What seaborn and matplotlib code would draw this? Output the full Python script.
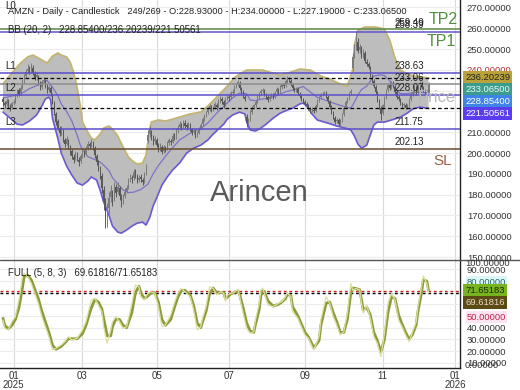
import numpy as np
import pandas as pd
import matplotlib
matplotlib.use("Agg")
import matplotlib.pyplot as plt
from matplotlib.lines import Line2D
import seaborn as sns

# ---------------- data ----------------
opens = [225.8, 224.2, 223.4, 225.0, 222.5, 221.9, 224.3, 225.1, 227.6, 230.2,
         229.0, 231.8, 234.9, 237.2, 239.5, 240.9, 239.0, 241.0, 238.1, 236.5,
         236.9, 233.4, 231.9, 234.6, 234.7, 232.0, 230.3, 231.4, 228.2, 224.3,
         219.0, 215.2, 212.0, 209.9, 210.8, 206.4, 204.6, 206.2, 202.7, 200.9,
         198.2, 197.3, 199.4, 196.8, 196.0, 198.9, 200.5, 199.8, 202.6, 204.2,
         203.7, 205.0, 202.4, 198.6, 195.3, 192.5, 188.8, 182.3, 174.9, 168.2,
         173.4, 178.9, 181.0, 178.0, 183.6, 181.2, 183.1, 178.7, 176.9, 179.4,
         181.9, 183.6, 187.3, 188.2, 187.9, 191.2, 188.8, 187.0, 188.4, 187.1,
         186.4, 190.3, 205.6, 209.1, 210.3, 207.9, 205.6, 206.4, 203.8, 202.0,
         203.1, 201.0, 202.5, 202.3, 205.0, 206.0, 205.4, 208.6, 207.8, 210.9,
         212.4, 213.5, 212.8, 214.6, 213.6, 212.9, 213.5, 211.4, 210.1, 210.2,
         208.9, 209.8, 211.9, 213.9, 216.5, 218.1, 219.6, 221.4, 222.2, 221.2,
         222.0, 223.3, 222.4, 225.1, 226.0, 224.7, 223.6, 226.2, 227.1, 226.9,
         229.0, 229.8, 232.0, 233.1, 233.8, 230.9, 229.3, 227.0, 217.2, 215.1,
         216.3, 219.7, 222.0, 223.2, 224.8, 227.1, 228.9, 230.0, 230.1, 228.1,
         226.8, 225.9, 227.2, 228.0, 227.3, 229.4, 230.5, 229.7, 231.9, 232.8,
         232.5, 234.8, 235.6, 234.6, 232.8, 231.1, 230.5, 230.7, 228.4, 227.2,
         225.8, 224.5, 223.7, 222.6, 221.3, 220.7, 220.9, 220.4, 223.1, 225.6,
         227.0, 228.2, 228.9, 228.8, 227.1, 224.7, 222.0, 219.3, 216.9, 215.2,
         215.8, 214.1, 216.0, 218.7, 222.2, 224.9, 226.5, 228.7, 241.0, 246.8,
         251.5, 253.6, 249.6, 250.4, 247.0, 248.2, 243.8, 242.9, 241.2, 237.0,
         234.5, 231.8, 229.1, 225.3, 221.8, 219.1, 223.2, 226.7, 230.1, 232.9,
         231.7, 233.6, 231.9, 229.2, 226.8, 225.7, 223.9, 222.9, 223.1, 222.2,
         223.1, 225.9, 228.2, 229.6, 231.5, 229.3, 232.7, 233.6, 231.3, 229.9,
         229.4, 228.93]
highs = [226.9, 225.1, 226.4, 225.8, 223.6, 224.8, 226.0, 228.4, 231.0, 231.4,
         232.5, 235.6, 238.1, 240.3, 242.6, 242.0, 243.1, 242.2, 239.4, 238.8,
         237.6, 234.6, 235.3, 236.4, 235.5, 233.1, 232.9, 232.2, 229.1, 225.2,
         219.9, 216.4, 213.1, 212.8, 211.6, 207.3, 208.1, 207.0, 203.9, 201.8,
         199.6, 201.2, 200.3, 198.1, 199.7, 202.3, 201.6, 203.4, 206.0, 205.4,
         206.8, 205.9, 203.3, 199.5, 196.8, 193.8, 190.2, 184.1, 178.6, 175.8,
         181.2, 184.6, 182.4, 186.3, 185.0, 186.1, 184.2, 180.3, 180.4, 183.0,
         184.8, 188.2, 190.1, 189.5, 192.3, 192.4, 190.0, 189.6, 189.9, 188.0,
         191.0, 194.6, 210.9, 213.2, 211.2, 208.8, 208.0, 207.3, 204.7, 204.8,
         204.0, 203.9, 203.6, 205.8, 207.4, 206.9, 209.5, 209.7, 211.9, 213.3,
         215.2, 214.6, 216.1, 215.7, 214.4, 215.0, 214.3, 212.2, 211.8, 211.0,
         210.6, 212.7, 214.6, 217.3, 218.9, 220.4, 222.2, 223.5, 223.1, 222.8,
         224.6, 224.2, 225.9, 227.4, 226.9, 225.6, 227.0, 228.5, 228.0, 229.9,
         230.6, 232.8, 233.9, 235.2, 234.7, 231.8, 230.2, 228.1, 218.9, 217.0,
         220.5, 222.6, 223.8, 225.4, 227.7, 229.5, 230.8, 231.4, 231.0, 229.0,
         227.7, 227.8, 229.1, 228.9, 230.0, 231.7, 231.4, 232.5, 233.9, 233.7,
         235.4, 236.9, 236.5, 235.5, 233.7, 232.0, 231.9, 231.6, 229.3, 228.1,
         226.7, 225.4, 224.6, 223.5, 222.2, 222.1, 221.8, 223.7, 226.2, 227.6,
         228.8, 229.5, 230.0, 229.7, 228.0, 225.6, 222.9, 220.2, 217.8, 217.0,
         216.7, 216.6, 219.3, 222.8, 225.5, 227.1, 229.3, 230.7, 248.2, 252.4,
         258.6, 255.1, 252.6, 251.3, 249.9, 249.1, 245.3, 243.8, 242.1, 237.9,
         235.4, 232.7, 230.0, 226.2, 222.7, 223.8, 227.3, 230.7, 233.5, 234.0,
         234.8, 234.5, 232.8, 230.1, 227.7, 226.6, 224.8, 224.3, 224.0, 223.7,
         226.5, 228.8, 230.2, 232.7, 232.4, 233.3, 234.8, 234.5, 232.2, 230.8,
         230.3, 234.0]
lows = [222.8, 221.9, 222.6, 221.7, 220.3, 221.0, 223.1, 224.2, 226.8, 227.5,
        228.1, 230.9, 233.6, 236.0, 238.2, 237.8, 238.4, 237.6, 234.9, 235.2,
        232.7, 230.5, 231.0, 233.5, 231.3, 228.8, 229.4, 227.6, 223.8, 218.4,
        213.6, 211.0, 208.2, 208.7, 205.5, 202.8, 203.7, 201.8, 199.2, 197.3,
        195.4, 196.5, 196.0, 193.9, 195.1, 197.8, 198.1, 199.0, 201.5, 201.9,
        202.8, 201.7, 197.8, 194.2, 191.6, 187.4, 180.9, 172.5, 164.0, 164.7,
        171.0, 176.3, 174.8, 176.9, 178.7, 180.1, 177.6, 173.9, 175.6, 178.2,
        180.6, 182.7, 186.0, 185.8, 187.0, 188.0, 185.4, 186.1, 186.2, 184.6,
        185.5, 189.4, 204.8, 207.9, 206.3, 203.9, 204.5, 202.9, 200.4, 201.1,
        199.5, 200.1, 200.7, 201.4, 204.1, 203.8, 204.7, 206.2, 207.0, 209.8,
        211.5, 211.0, 211.9, 212.1, 211.3, 212.0, 210.4, 208.5, 209.2, 207.3,
        207.8, 209.0, 211.1, 213.0, 215.6, 217.2, 218.7, 220.3, 219.6, 220.0,
        221.1, 220.8, 221.6, 224.2, 223.7, 221.9, 222.8, 225.3, 225.2, 226.1,
        228.1, 229.0, 231.1, 232.2, 230.3, 228.5, 226.4, 225.2, 212.6, 213.9,
        215.4, 218.8, 221.1, 222.3, 223.9, 226.2, 228.0, 229.1, 227.5, 226.2,
        224.7, 225.0, 226.3, 226.1, 226.4, 228.5, 228.5, 228.8, 231.0, 231.3,
        231.6, 233.9, 234.0, 232.2, 230.5, 229.3, 229.6, 227.8, 226.6, 225.2,
        223.9, 222.5, 222.0, 220.7, 219.5, 219.8, 219.2, 219.6, 222.2, 224.7,
        226.1, 227.3, 228.0, 226.5, 224.1, 221.4, 218.7, 216.3, 214.0, 214.3,
        212.9, 213.2, 215.1, 217.8, 221.3, 224.0, 225.6, 227.8, 239.5, 245.9,
        249.8, 248.3, 248.0, 245.8, 245.6, 243.2, 241.7, 240.4, 236.4, 233.9,
        231.2, 228.5, 224.7, 221.2, 216.0, 218.2, 222.3, 225.8, 229.2, 230.5,
        230.8, 231.3, 228.6, 226.2, 225.1, 223.3, 221.7, 222.0, 221.0, 221.3,
        222.2, 225.0, 227.3, 228.7, 228.1, 228.4, 231.8, 230.7, 229.3, 228.2,
        228.0, 227.19]
closes = [224.5, 223.0, 225.2, 222.8, 221.6, 223.9, 224.7, 227.3, 229.8, 228.6,
          231.2, 234.5, 236.8, 238.9, 240.6, 239.2, 241.3, 238.5, 236.1, 237.4,
          233.8, 231.6, 234.2, 235.0, 232.4, 229.9, 231.8, 228.7, 224.9, 219.6,
          214.8, 212.3, 209.6, 211.4, 206.9, 204.2, 206.8, 203.1, 200.4, 198.7,
          196.9, 199.8, 197.2, 195.6, 198.4, 200.9, 199.3, 202.1, 204.6, 203.2,
          205.4, 203.0, 199.1, 195.8, 193.2, 189.6, 183.4, 176.8, 168.9, 172.6,
          178.4, 181.7, 177.2, 184.1, 180.6, 183.8, 179.2, 176.5, 178.9, 181.4,
          183.2, 186.9, 188.6, 187.4, 190.8, 189.2, 186.7, 188.1, 187.5, 185.9,
          189.8, 193.4, 208.7, 210.9, 207.6, 205.2, 206.8, 204.1, 201.7, 203.5,
          200.6, 202.8, 201.9, 204.7, 206.2, 205.1, 208.3, 207.5, 210.6, 212.1,
          213.8, 212.4, 214.9, 213.2, 212.6, 213.9, 211.7, 209.8, 210.5, 208.6,
          209.4, 211.6, 213.5, 216.2, 217.8, 219.3, 221.1, 222.4, 220.9, 221.7,
          223.5, 222.1, 224.8, 226.3, 225.0, 223.2, 225.9, 227.4, 226.6, 228.8,
          229.5, 231.7, 232.8, 234.1, 231.2, 229.6, 227.3, 226.1, 214.8, 215.9,
          219.4, 221.7, 222.9, 224.5, 226.8, 228.6, 229.7, 230.3, 228.4, 227.1,
          225.6, 226.9, 228.2, 227.0, 229.1, 230.8, 229.4, 231.6, 233.0, 232.2,
          234.5, 235.8, 234.9, 233.1, 231.4, 230.2, 231.0, 228.7, 227.5, 226.1,
          224.8, 223.4, 222.9, 221.6, 220.4, 221.2, 220.1, 222.8, 225.3, 226.7,
          227.9, 228.6, 229.1, 227.4, 225.0, 222.3, 219.6, 217.2, 214.9, 216.1,
          213.8, 215.7, 218.4, 221.9, 224.6, 226.2, 228.4, 229.8, 246.3, 250.9,
          254.0, 249.2, 250.8, 246.7, 248.5, 244.1, 242.6, 241.5, 237.3, 234.8,
          232.1, 229.4, 225.6, 222.1, 218.7, 222.9, 226.4, 229.8, 232.6, 231.4,
          233.9, 232.2, 229.5, 227.1, 226.0, 224.2, 222.6, 223.4, 221.9, 222.8,
          225.6, 227.9, 229.3, 231.8, 229.0, 232.4, 233.9, 231.6, 230.2, 229.1,
          228.93, 233.065]

# Bollinger band (20, 2) read at sample bars
bb_upper_bar = [0, 4, 10, 14, 17, 21, 25, 28, 31, 33, 36, 38, 40, 42, 44, 45, 48, 50, 52, 55,
                57, 60, 62, 65, 68, 71, 74, 76, 79, 81, 83, 84, 88, 92, 96, 100, 106, 112, 116, 121,
                127, 131, 134, 138, 143, 147, 151, 157, 163, 168, 174, 180, 185, 191, 195, 198, 199, 201, 205, 211,
                216, 219, 222, 225, 229, 233, 237, 241]
bb_upper = [233.2, 237.5, 243.3, 246.2, 247.1, 245.2, 243.3, 246.6, 248.1, 247.1,
            246.2, 243.8, 238.9, 231.3, 221.6, 214.9, 210.1, 207.2, 206.3, 209.1,
            212.0, 213.0, 211.5, 208.2, 202.9, 198.1, 195.7, 194.7, 195.2, 199.0,
            211.1, 214.9, 215.9, 215.4, 216.3, 217.3, 218.8, 219.7, 222.6, 226.9,
            232.2, 236.1, 238.0, 239.9, 239.9, 239.9, 238.9, 237.5, 238.9, 240.4,
            239.9, 237.0, 235.6, 233.2, 232.2, 239.9, 251.9, 259.1, 260.6, 260.6,
            259.6, 254.3, 245.7, 239.9, 238.0, 237.0, 236.5, 236.20239]
bb_lower_bar = [0, 4, 8, 11, 15, 19, 22, 24, 26, 27, 28, 31, 33, 36, 39, 42, 45, 48, 50, 53,
                55, 57, 60, 62, 65, 67, 70, 73, 76, 79, 81, 83, 85, 87, 90, 93, 96, 100, 104, 108,
                112, 116, 119, 122, 125, 127, 130, 134, 137, 138, 140, 143, 146, 149, 153, 157, 161, 164, 168, 170,
                172, 175, 178, 184, 189, 194, 197, 199, 201, 203, 206, 208, 210, 212, 216, 220, 225, 229, 232, 236,
                241]
bb_lower = [219.7, 216.8, 213.9, 213.5, 215.4, 218.3, 222.6, 226.0, 226.9, 225.5,
            216.8, 207.2, 200.0, 193.8, 189.4, 185.6, 184.6, 186.5, 188.5, 187.0,
            182.2, 176.4, 170.2, 164.9, 162.0, 161.5, 163.0, 164.9, 166.3, 166.8,
            165.4, 168.8, 174.5, 178.4, 184.6, 188.5, 191.8, 195.2, 200.0, 202.4,
            203.8, 206.3, 209.1, 211.5, 213.9, 216.3, 218.3, 219.7, 218.8, 214.9,
            211.1, 210.6, 212.0, 213.9, 216.8, 219.2, 220.7, 221.6, 223.6, 224.0,
            222.6, 218.8, 215.9, 214.4, 213.0, 212.0, 211.1, 208.2, 204.3, 202.4,
            203.8, 208.7, 213.5, 214.9, 214.9, 215.9, 217.3, 219.2, 221.2, 222.1,
            221.50561]
bb_mid_bar = [0, 4, 10, 15, 19, 22, 25, 28, 31, 33, 36, 39, 42, 44, 48, 52, 55, 57, 60, 62,
              65, 68, 71, 74, 78, 82, 85, 88, 92, 96, 100, 104, 108, 112, 116, 121, 125, 130, 134, 138,
              140, 143, 146, 150, 155, 160, 165, 170, 174, 178, 184, 189, 194, 197, 199, 201, 203, 206, 210, 213,
              216, 220, 222, 225, 229, 233, 237, 241]
bb_mid = [226.5, 227.2, 228.4, 231.0, 232.4, 233.7, 234.9, 231.7, 227.7, 223.6,
          220.0, 215.4, 208.5, 203.3, 198.3, 196.9, 195.7, 194.2, 191.6, 188.2,
          185.1, 182.3, 181.0, 181.2, 182.5, 185.0, 190.0, 194.0, 198.5, 202.5,
          206.3, 208.5, 210.5, 211.8, 214.5, 219.2, 222.5, 226.5, 228.9, 228.5,
          225.5, 225.2, 225.9, 226.3, 227.6, 229.5, 230.5, 232.0, 229.4, 226.8,
          225.0, 223.5, 222.2, 221.6, 224.5, 228.0, 230.5, 232.2, 237.0, 237.6,
          237.3, 234.0, 231.1, 228.6, 228.6, 229.2, 229.2, 228.854]

# Full stochastic (5, 8, 3) read at sample bars
stoch_bar = [0, 1, 3, 5, 7, 9, 11, 12, 14, 16, 18, 20, 22, 24, 26, 28, 30, 33, 35, 37,
             39, 42, 45, 47, 50, 52, 54, 56, 57, 59, 61, 62, 64, 66, 68, 70, 73, 75, 77, 78,
             80, 82, 84, 86, 88, 90, 92, 95, 97, 99, 101, 103, 106, 108, 110, 112, 113, 115, 117, 119,
             121, 123, 125, 126, 127, 129, 130, 133, 134, 136, 138, 140, 142, 143, 145, 146, 147, 148, 150, 153,
             156, 158, 160, 161, 163, 164, 167, 169, 171, 173, 175, 176, 179, 180, 183, 185, 187, 189, 191, 193,
             195, 197, 198, 200, 202, 203, 204, 206, 208, 210, 212, 214, 216, 218, 220, 222, 224, 226, 228, 230,
             232, 234, 235, 237, 238, 240, 241]
stoch_k = [46.6, 39.4, 38.0, 45.1, 49.4, 63.7, 83.7, 86.6, 83.7, 78.0,
           69.4, 60.9, 49.4, 40.8, 32.3, 20.9, 22.3, 25.2, 28.0, 32.3,
           29.4, 30.9, 38.0, 45.1, 63.7, 65.2, 59.4, 53.7, 40.8, 26.6,
           38.0, 45.1, 49.4, 45.1, 39.4, 40.8, 60.9, 76.6, 75.1, 66.5,
           63.7, 69.4, 70.8, 69.4, 58.0, 40.8, 42.3, 50.9, 60.9, 69.4,
           73.7, 70.8, 66.5, 55.1, 38.0, 40.8, 48.0, 58.0, 75.1, 73.7,
           68.0, 70.8, 69.4, 62.3, 68.0, 69.4, 69.4, 72.9, 66.5, 52.3,
           39.4, 35.2, 36.6, 47.0, 60.0, 72.0, 74.0, 69.4, 59.4, 58.0,
           60.9, 62.3, 66.5, 70.0, 66.5, 53.7, 48.0, 40.8, 33.7, 30.9,
           23.7, 20.9, 32.3, 46.6, 66.5, 60.9, 49.4, 42.3, 33.7, 36.6,
           52.3, 78.0, 72.3, 73.7, 72.3, 60.9, 52.3, 59.4, 48.0, 32.3,
           26.6, 15.1, 35.2, 60.9, 69.4, 63.7, 46.6, 40.8, 33.7, 28.0,
           36.6, 45.1, 58.0, 75.1, 84.3, 78.0, 69.61816]
stoch_d = [48.0, 42.0, 39.0, 42.0, 47.0, 57.0, 74.0, 84.0, 85.0, 81.0,
           73.0, 65.0, 54.0, 45.0, 36.0, 25.0, 21.5, 24.0, 27.0, 30.5,
           30.5, 30.5, 35.0, 42.0, 57.0, 64.0, 62.0, 56.0, 48.0, 33.0,
           33.0, 41.0, 47.5, 47.0, 42.0, 40.0, 53.0, 70.0, 75.5, 70.0,
           65.0, 67.0, 70.0, 70.0, 62.0, 47.0, 42.0, 47.0, 57.0, 66.0,
           72.0, 72.0, 68.0, 59.0, 44.0, 40.0, 45.0, 54.0, 69.0, 74.0,
           70.0, 70.0, 70.0, 65.0, 66.0, 69.0, 69.4, 71.5, 68.5, 57.0,
           44.0, 37.0, 36.0, 43.0, 55.0, 67.0, 72.0, 71.0, 63.0, 58.5,
           60.0, 62.0, 65.0, 68.5, 67.5, 58.0, 50.0, 43.0, 36.0, 32.0,
           26.0, 22.5, 29.0, 42.0, 61.0, 62.0, 53.0, 45.0, 36.0, 36.0,
           47.0, 70.0, 74.0, 73.5, 72.5, 64.0, 55.0, 57.5, 51.0, 36.0,
           29.0, 19.0, 30.0, 53.0, 66.5, 65.0, 51.0, 43.0, 36.0, 30.0,
           34.5, 42.5, 54.0, 70.0, 81.0, 80.0, 71.65183]

price_ticks = [150, 160, 170, 180, 190, 200, 210, 220, 230, 240, 250, 260, 270]
hidden_price_ticks = [220, 230]          # covered by the value boxes in the reference
stoch_ticks = [10, 20, 30, 40, 50, 60, 70, 80, 90]
hidden_stoch_ticks = [60, 70]
month_starts = ['2025-01-01', '2025-03-01', '2025-05-01', '2025-07-01',
                '2025-09-01', '2025-11-01', '2026-01-01']
month_labels = ['01\n2025', '03', '05', '07', '09', '11', '01\n2026']

level_values = [259.49, 258.39, 238.63, 233.06, 228.07, 211.75, 202.13]
level_names = ['259.49', '258.39', '238.63', '233.06', '228.07', '211.75', '202.13']

# ---------------- styles ----------------
level_colors = ['#5e8c46', '#6253c9', '#5b4fc8', '#8c8c8c', '#5b4fc8', '#5b4fc8', '#6b4a2e']
W, H = 520, 390

sns.set_theme(style="white")
plt.rcParams['font.family'] = ['Liberation Sans', 'DejaVu Sans']

holidays = ['2024-12-25', '2025-01-01', '2025-01-09', '2025-01-20', '2025-02-17',
            '2025-04-18', '2025-05-26', '2025-06-19', '2025-07-04', '2025-09-01',
            '2025-11-27', '2025-12-25', '2026-01-01']
cal = pd.offsets.CustomBusinessDay(holidays=holidays)
all_days = pd.date_range('2024-12-23', periods=275, freq=cal)
tick_pos = [int(np.searchsorted(all_days, pd.Timestamp(m))) for m in month_starts]

fig = plt.figure(figsize=(W / 100, H / 100), dpi=100)
ax = fig.add_axes([0, 130 / H, 460 / W, 260 / H])
ax2 = fig.add_axes([0, 22 / H, 460 / W, 108 / H], sharex=ax)

n = len(closes)
bars = np.arange(n)
ax.set_xlim(-1.70, 258.8)
ax.set_ylim(148.6, 273.6)
ax2.set_ylim(5.45, 98.0)

for a in (ax, ax2):
    a.set_facecolor('white')
    a.set_axisbelow(True)
    a.grid(True, axis='x', color='#dadada', lw=0.8)
    a.grid(True, axis='y', color='#ececec', lw=0.8)
    for s in ('top', 'left'):
        a.spines[s].set_visible(False)
    a.spines['right'].set_color('#222222')
    a.spines['right'].set_linewidth(1.0)
ax.spines['bottom'].set_visible(False)
ax2.spines['bottom'].set_color('#222222')
ax2.spines['bottom'].set_linewidth(1.0)

# Bollinger band
poly_x = list(bb_upper_bar) + list(bb_lower_bar[::-1])
poly_y = list(bb_upper) + list(bb_lower[::-1])
ax.fill(poly_x, poly_y, color='#bdbdbd', lw=0, zorder=1)
sns.lineplot(x=bb_upper_bar, y=bb_upper, ax=ax, color='#c4b474', lw=1.3, zorder=2,
             estimator=None, sort=False)
sns.lineplot(x=bb_lower_bar, y=bb_lower, ax=ax, color='#6a5ad0', lw=1.2, zorder=2,
             estimator=None, sort=False)
sns.lineplot(x=bb_mid_bar, y=bb_mid, ax=ax, color='#7b74c8', lw=0.9, zorder=2,
             estimator=None, sort=False)

# candles
o = np.array(opens)
c = np.array(closes)
up = c >= o
cols = np.where(up, '#7a7a7a', '#575757')
ax.vlines(bars, lows, highs, colors=cols, lw=0.7, zorder=3)
ax.bar(bars, np.maximum(np.abs(c - o), 0.3), bottom=np.minimum(o, c), width=0.6,
       color=cols, lw=0, zorder=3)

# levels
for v, name, col in zip(level_values, level_names, level_colors):
    ax.axhline(v, color=col, lw=1.1, zorder=4)
    ax.annotate(name, xy=(395 / 460, v), xycoords=ax.get_yaxis_transform(),
                xytext=(0, 1.2), textcoords='offset points', ha='left', va='bottom',
                fontsize=7, color='#222222', zorder=6)
ax.axhline(bb_upper[-1], color='black', ls=(0, (3, 2)), lw=0.9, zorder=4)
ax.axhline(bb_lower[-1], color='black', ls=(0, (3, 2)), lw=0.9, zorder=4)

for lab, v in zip(['L1', 'L2', 'L3'], [238.63, 228.07, 211.75]):
    ax.annotate(lab, xy=(5 / 460, v), xycoords=ax.get_yaxis_transform(),
                xytext=(0, 1.5), textcoords='offset points', ha='left', va='bottom',
                fontsize=7, color='#222222', zorder=6)
fig.text(5 / W, 1 - 6 / H, 'L0', fontsize=7, va='center', color='#222222')

# stochastic
sns.lineplot(x=stoch_bar, y=stoch_d, ax=ax2, color='#8c9c3c', lw=2.0, zorder=3,
             estimator=None, sort=False)
sns.lineplot(x=stoch_bar, y=stoch_k, ax=ax2, color='#dfe0a0', lw=0.9, zorder=4,
             estimator=None, sort=False)
ax2.axhline(stoch_d[-1], color='#d02020', ls=(0, (2, 2)), lw=1.0, zorder=2)
ax2.axhline(stoch_k[-1], color='black', ls=(0, (2, 2)), lw=1.0, zorder=2)

# axes ticks
ax.yaxis.tick_right()
ax.set_yticks(price_ticks, labels=[f'{t:.5f}' for t in price_ticks])
ax.tick_params(axis='y', length=0, pad=5, labelsize=6.8, labelcolor='#333333')
ax.tick_params(axis='x', length=0, labelbottom=False)
for t, lbl in zip(price_ticks, ax.get_yticklabels()):
    if t == 240:
        lbl.set_color('#b03030')
    if t in hidden_price_ticks:
        lbl.set_visible(False)

ax2.yaxis.tick_right()
ax2.set_yticks(stoch_ticks, labels=[f'{t:.5f}' for t in stoch_ticks])
ax2.tick_params(axis='y', length=0, pad=5, labelsize=6.8, labelcolor='#333333')
for t, lbl in zip(stoch_ticks, ax2.get_yticklabels()):
    if t == 80:
        lbl.set_color('#2a6a6a')
        lbl.set_bbox(dict(facecolor='#dcf6f6', edgecolor='none', pad=0.8))
    if t == 50:
        lbl.set_color('#c0284a')
        lbl.set_bbox(dict(facecolor='#ffe4f2', edgecolor='none', pad=0.8))
    if t in hidden_stoch_ticks:
        lbl.set_visible(False)
ax2.set_xticks(tick_pos, labels=month_labels)
ax2.tick_params(axis='x', length=0, pad=2, labelsize=7, labelcolor='#333333')
for lbl in ax2.get_xticklabels():
    lbl.set_linespacing(0.95)
fig.text(465 / W, 1 - 264 / H, '100.00000', fontsize=6.8, va='center', color='#333333')
fig.text(465 / W, 1 - 366 / H, '0.00000', fontsize=6.8, va='center', color='#333333')

# divider line between panels
fig.add_artist(Line2D([0, 1], [130 / H, 130 / H], color='#555555', lw=1.0))


def stack_boxes(a, values, faces, texts):
    prev = None
    for v, fc, tc in zip(values, faces, texts):
        ypx = a.transData.transform((0, v))[1]
        if prev is not None and ypx > prev - 12:
            ypx = prev - 12
        fig.text(465 / W, ypx / H, f'{v:.5f}', ha='left', va='center', fontsize=6.8,
                 color=tc, zorder=10,
                 bbox=dict(boxstyle='square,pad=0.22', fc=fc, ec='none'))
        prev = ypx


stack_boxes(ax, [bb_upper[-1], closes[-1], bb_mid[-1], bb_lower[-1]],
            ['#b9a23a', '#3a9c8c', '#3f84e6', '#5b3cf0'],
            ['#222222', '#eefaf6', 'white', 'white'])
stack_boxes(ax2, [stoch_d[-1], stoch_k[-1]],
            ['#78b41e', '#5a4a14'], ['#1c2c00', '#f2d8c8'])

# texts
header = (f'AMZN - Daily - Candlestick   249/269 - O:{opens[-1]:.5f} - H:{highs[-1]:.5f}'
          f' - L:{lows[-1]:.5f} - C:{closes[-1]:.5f}')
fig.text(8 / W, 1 - 12 / H, header, fontsize=6.7, va='center', color='#222222')
fig.text(8 / W, 1 - 30 / H, f'BB (20, 2)   {bb_mid[-1]:.5f}/{bb_upper[-1]:.5f}/{bb_lower[-1]:.5f}',
         fontsize=6.9, va='center', color='#222222')
fig.text(8 / W, 1 - 273 / H, f'FULL (5, 8, 3)   {stoch_k[-1]:.5f}/{stoch_d[-1]:.5f}',
         fontsize=6.9, va='center', color='#222222')
fig.text(458 / W, 1 - 19 / H, 'TP2', ha='right', va='center', fontsize=11.5, color='#4f8f3f')
fig.text(456 / W, 1 - 41 / H, 'TP1', ha='right', va='center', fontsize=11.5, color='#4f8f3f')
fig.text(452 / W, 1 - 161 / H, 'SL', ha='right', va='center', fontsize=11, color='#9a6040')
fig.text(259 / W, 1 - 193 / H, 'Arincen', ha='center', va='center', fontsize=21, color='#5a5a5a')
fig.text(437 / W, 1 - 97 / H, 'Price', ha='center', va='center', fontsize=12, color='#b8b8b8',
         zorder=1)

fig.savefig('out.png', dpi=100, facecolor='white')
